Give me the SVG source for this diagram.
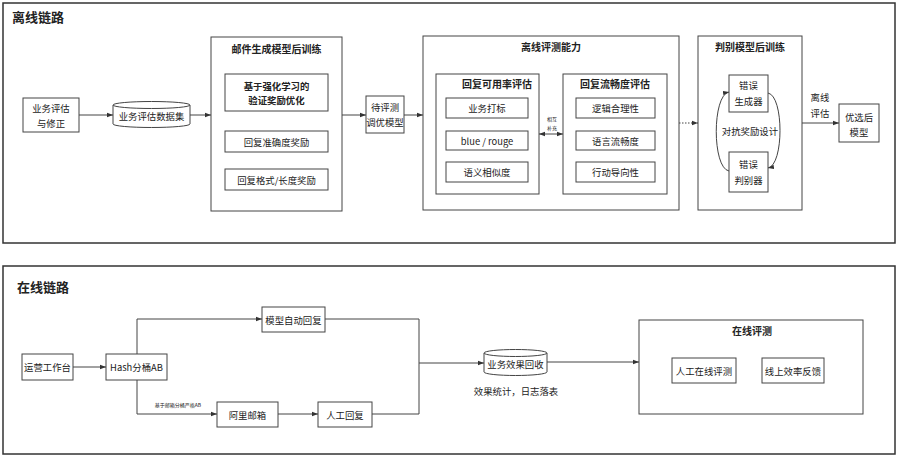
<svg xmlns="http://www.w3.org/2000/svg" width="900" height="456" viewBox="0 0 900 456">
<defs>
<marker id="ah" markerUnits="userSpaceOnUse" markerWidth="6" markerHeight="6" viewBox="0 0 6 6" refX="6" refY="3" orient="auto-start-reverse">
<path d="M0,0.8 L6,3 L0,5.2 Z" fill="#333"/>
</marker>
<style>
text{font-family:"Noto Sans CJK SC","Liberation Sans",sans-serif;fill:#222;text-anchor:middle;dominant-baseline:central}
.frame{fill:#fff;stroke:#333;stroke-width:1.5}
.box{fill:#fff;stroke:#444;stroke-width:1}
.h1{font-size:13px;font-weight:bold;text-anchor:start}
.h2{font-size:10px;font-weight:bold}
.t{font-size:9.4px}
.s{font-size:5px}
.ln{fill:none;stroke:#444;stroke-width:1}
</style>
</defs>
<rect width="900" height="456" fill="#fff"/>

<g id="offline">
<rect class="frame" x="3" y="3" width="892" height="240"/>
<text class="h1" x="12" y="16">离线链路</text>
</g>

<g id="online">
<rect class="frame" x="3" y="266" width="892" height="188"/>
<text class="h1" x="17" y="286">在线链路</text>
</g>

<g id="n-biz-eval">
<rect class="box" x="23" y="98" width="56" height="34"/>
<text class="t" x="51" y="108">业务评估</text>
<text class="t" x="51" y="123">与修正</text>
</g>

<g id="n-dataset">
<path class="box" d="M113,105 A38.5,3.5 0 0 1 190,105 V124 A38.5,3.5 0 0 1 113,124 Z"/>
<path class="ln" d="M113,105 A38.5,3.5 0 0 0 190,105"/>
<text class="t" x="151.5" y="116">业务评估数据集</text>
</g>

<g id="n-mail-train">
<rect class="box" x="211" y="37" width="131" height="174"/>
<text class="h2" x="276.5" y="48">邮件生成模型后训练</text>
<rect class="box" x="225" y="74" width="103" height="37"/>
<text class="t" x="276.5" y="86" font-weight="bold">基于强化学习的</text>
<text class="t" x="276.5" y="100" font-weight="bold">验证奖励优化</text>
<rect class="box" x="225" y="131" width="103" height="21"/>
<text class="t" x="276.5" y="142">回复准确度奖励</text>
<rect class="box" x="225" y="169" width="103" height="21"/>
<text class="t" x="276.5" y="180">回复格式/长度奖励</text>
</g>

<g id="n-tune-model">
<rect class="box" x="366" y="96" width="38" height="37"/>
<text class="t" x="385" y="107">待评测</text>
<text class="t" x="385" y="122">调优模型</text>
</g>

<g id="n-offline-eval">
<rect class="box" x="423" y="36" width="256" height="174"/>
<text class="h2" x="551" y="46">离线评测能力</text>
<rect class="box" x="436" y="74" width="103" height="120"/>
<text class="h2" x="497" y="83" font-size="9.5">回复可用率评估</text>
<rect class="box" x="446" y="98" width="82" height="20"/>
<text class="t" x="487" y="108">业务打标</text>
<rect class="box" x="446" y="131" width="82" height="19"/>
<text class="t" x="487" y="140.5">blue / rouge</text>
<rect class="box" x="446" y="162" width="82" height="20"/>
<text class="t" x="487" y="172">语义相似度</text>
<rect class="box" x="563" y="74" width="104" height="120"/>
<text class="h2" x="615" y="83" font-size="9.5">回复流畅度评估</text>
<rect class="box" x="576" y="98" width="79" height="20"/>
<text class="t" x="615.5" y="108">逻辑合理性</text>
<rect class="box" x="576" y="131" width="79" height="19"/>
<text class="t" x="615.5" y="140.5">语言流畅度</text>
<rect class="box" x="576" y="162" width="79" height="20"/>
<text class="t" x="615.5" y="172">行动导向性</text>
</g>

<g id="n-disc-train">
<rect class="box" x="698" y="36" width="104" height="174"/>
<text class="h2" x="750" y="46">判别模型后训练</text>
<rect class="box" x="729" y="75" width="39" height="37"/>
<text class="t" x="748.5" y="85">错误</text>
<text class="t" x="748.5" y="101">生成器</text>
<text class="t" x="750" y="131">对抗奖励设计</text>
<rect class="box" x="729" y="152" width="39" height="40"/>
<text class="t" x="748.5" y="164">错误</text>
<text class="t" x="748.5" y="180">判别器</text>
</g>

<g id="n-best-model">
<rect class="box" x="839" y="104" width="40" height="38"/>
<text class="t" x="859" y="117">优选后</text>
<text class="t" x="859" y="132">模型</text>
</g>

<g id="n-ops">
<rect class="box" x="22" y="354" width="51" height="26"/>
<text class="t" x="47.5" y="367">运营工作台</text>
</g>

<g id="n-hash">
<rect class="box" x="106" y="354" width="61" height="26"/>
<text class="t" x="136.5" y="367">Hash分桶AB</text>
</g>

<g id="n-auto-reply">
<rect class="box" x="262" y="307" width="63" height="25"/>
<text class="t" x="293.5" y="319.5">模型自动回复</text>
</g>

<g id="n-ali-mail">
<rect class="box" x="217" y="402" width="61" height="25"/>
<text class="t" x="247.5" y="414.5">阿里邮箱</text>
</g>

<g id="n-manual-reply">
<rect class="box" x="318" y="402" width="54" height="25"/>
<text class="t" x="345" y="414.5">人工回复</text>
</g>

<g id="n-collect">
<path class="box" d="M484,353 A31.5,3.5 0 0 1 547,353 V372 A31.5,3.5 0 0 1 484,372 Z"/>
<path class="ln" d="M484,353 A31.5,3.5 0 0 0 547,353"/>
<text class="t" x="515.5" y="364">业务效果回收</text>
<text class="t" x="516" y="391">效果统计，日志落表</text>
</g>

<g id="n-online-eval">
<rect class="box" x="639" y="320" width="224" height="94"/>
<text class="h2" x="752" y="330">在线评测</text>
<rect class="box" x="672" y="358" width="64" height="25"/>
<text class="t" x="704" y="370.5">人工在线评测</text>
<rect class="box" x="762" y="358" width="62" height="25"/>
<text class="t" x="793" y="370.5">线上效率反馈</text>
</g>

<g id="connectors">
<path class="ln" d="M79,115 H113" marker-end="url(#ah)"/>
<path class="ln" d="M190,115 H211" marker-end="url(#ah)"/>
<path class="ln" d="M342,115 H366" marker-end="url(#ah)"/>
<path class="ln" d="M404,115 H423" marker-end="url(#ah)"/>
<path class="ln" d="M539,134 H563" marker-start="url(#ah)" marker-end="url(#ah)"/>
<path class="ln" d="M679,123 H698" stroke-dasharray="1.5,1.5" marker-end="url(#ah)"/>
<path class="ln" d="M729,171 C712,168 712,95 729,92" marker-end="url(#ah)"/>
<path class="ln" d="M768,93 C784,96 784,165 768,168" marker-end="url(#ah)"/>
<path class="ln" d="M802,123 H839" marker-end="url(#ah)"/>
<path class="ln" d="M73,367 H106" marker-end="url(#ah)"/>
<path class="ln" d="M137,354 V319 H262" marker-end="url(#ah)"/>
<path class="ln" d="M137,380 V414 H217" marker-end="url(#ah)"/>
<path class="ln" d="M278,414 H318" marker-end="url(#ah)"/>
<path class="ln" d="M325,319 H419 V414 H372"/>
<path class="ln" d="M419,363 H484" marker-end="url(#ah)"/>
<path class="ln" d="M547,362 H639" marker-end="url(#ah)"/>
<text class="s" x="552" y="118">相互</text>
<text class="s" x="552" y="127">补充</text>
<text class="t" x="820" y="97">离线</text>
<text class="t" x="820" y="113">评估</text>
<text class="s" x="178" y="404">基于邮箱分桶严格AB</text>
</g>
</svg>
